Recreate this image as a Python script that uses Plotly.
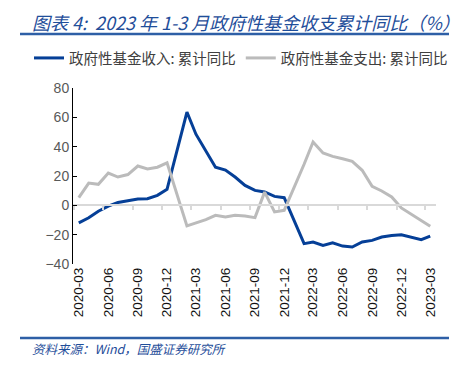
import plotly.graph_objects as go
import pandas as pd

months = ["2020-03","2020-04","2020-05","2020-06","2020-07","2020-08","2020-09","2020-10","2020-11","2020-12",
          "2021-02","2021-03","2021-04","2021-05","2021-06","2021-07","2021-08","2021-09","2021-10","2021-11","2021-12",
          "2022-02","2022-03","2022-04","2022-05","2022-06","2022-07","2022-08","2022-09","2022-10","2022-11","2022-12",
          "2023-02","2023-03"]
income = [-12, -8.5, -4, -0.5, 2, 3.4, 4.3, 4.5, 6.8, 10.9,
          63.6, 48.5, 37, 26, 24, 19.3, 13.6, 10.2, 9.1, 6.1, 5.2,
          -26.1, -25, -27.3, -25.5, -27.8, -28.4, -25, -23.9, -21.6, -20.5, -20,
          -23.4, -21]
expense = [5.2, 15.2, 14.3, 22, 19.3, 21, 26.8, 24.8, 26, 29,
           -14, -12, -9.8, -6.8, -8, -6.8, -7.3, -8.4, 9, -4.5, -3.4,
           28, 43.2, 35.7, 33.4, 31.8, 30, 23.9, 13, 9.8, 5.7, -1.8,
           -10.2, -14.3]
tick_labels = ["2020-03","2020-06","2020-09","2020-12","2021-03","2021-06","2021-09",
               "2021-12","2022-03","2022-06","2022-09","2022-12","2023-03"]
name_income = "政府性基金收入: 累计同比"
name_expense = "政府性基金支出: 累计同比"
title_text = "图表 4:  2023 年 1-3 月政府性基金收支累计同比（%）"
source_text = "资料来源：Wind，国盛证券研究所"

W, H = 462, 376
L, R, T, B = 73, 26, 88, 112
PW, PH = W - L - R, H - T - B
def px(x): return (x - L) / PW
def py(y): return (H - B - y) / PH

dates = pd.to_datetime(months)
tick_dates = pd.to_datetime(tick_labels)
minor_ticks = tick_dates - pd.Timedelta(days=15)

fig = go.Figure()
fig.add_trace(go.Scatter(x=dates, y=income, mode="lines", name=name_income,
                         line=dict(color="#053F97", width=3)))
fig.add_trace(go.Scatter(x=dates, y=expense, mode="lines", name=name_expense,
                         line=dict(color="#BBBBBB", width=3)))
fig.add_trace(go.Scatter(x=dates, y=[None]*len(dates), xaxis="x2", mode="lines",
                         showlegend=False, hoverinfo="skip"))

xr = ["2020-02-12", "2023-03-19"]
fig.update_layout(
    width=W, height=H, margin=dict(l=L, r=R, t=T, b=B, autoexpand=False),
    paper_bgcolor="white", plot_bgcolor="white",
    font=dict(family="Liberation Sans, Arial, sans-serif"),
    showlegend=True,
    legend=dict(orientation="h", x=px(29), xanchor="left", y=py(58), yanchor="middle",
                font=dict(family="Noto Sans CJK SC", size=14.5, color="#404040"),
                itemwidth=30, tracegroupgap=0, bgcolor="rgba(0,0,0,0)"),
    xaxis=dict(type="date", range=xr, tickvals=tick_dates, ticktext=tick_labels,
               tickangle=-90, showgrid=False, showline=False, zeroline=False, ticks="",
               tickfont=dict(size=13.5, color="#111111", family="Liberation Sans, Arial")),
    xaxis2=dict(type="date", range=xr, overlaying="x", anchor="free", position=1/3,
                showline=True, linecolor="#D9D9D9", linewidth=1.5,
                tickvals=minor_ticks, ticks="outside", ticklen=4, tickcolor="#D9D9D9",
                tickwidth=1.5, showticklabels=False, showgrid=False, zeroline=False, side="bottom"),
    yaxis=dict(range=[-40, 80], dtick=20, showgrid=False, zeroline=False,
               showline=True, linecolor="black", linewidth=1,
               ticks="inside", ticklen=4, tickcolor="black",
               tickfont=dict(size=14, color="#595959", family="Liberation Sans, Arial")),
)

fig.add_annotation(text=title_text, xref="paper", yref="paper", x=px(30), y=py(22),
                   xanchor="left", yanchor="middle", showarrow=False,
                   font=dict(family="Noto Sans CJK SC", size=18, color="#1F4E9A", style="italic"))
fig.add_annotation(text=source_text, xref="paper", yref="paper", x=px(30), y=py(348),
                   xanchor="left", yanchor="middle", showarrow=False,
                   font=dict(family="Noto Sans CJK SC", size=12.5, color="#1F4E9A", style="italic"))
for yy in (34, 338):
    fig.add_shape(type="line", xref="paper", yref="paper", x0=px(20), x1=px(449),
                  y0=py(yy), y1=py(yy), line=dict(color="#2E5FA6", width=2.5))

fig.write_html("out.html", post_script="document.body.style.margin='0';",
               config={"displayModeBar": False})
